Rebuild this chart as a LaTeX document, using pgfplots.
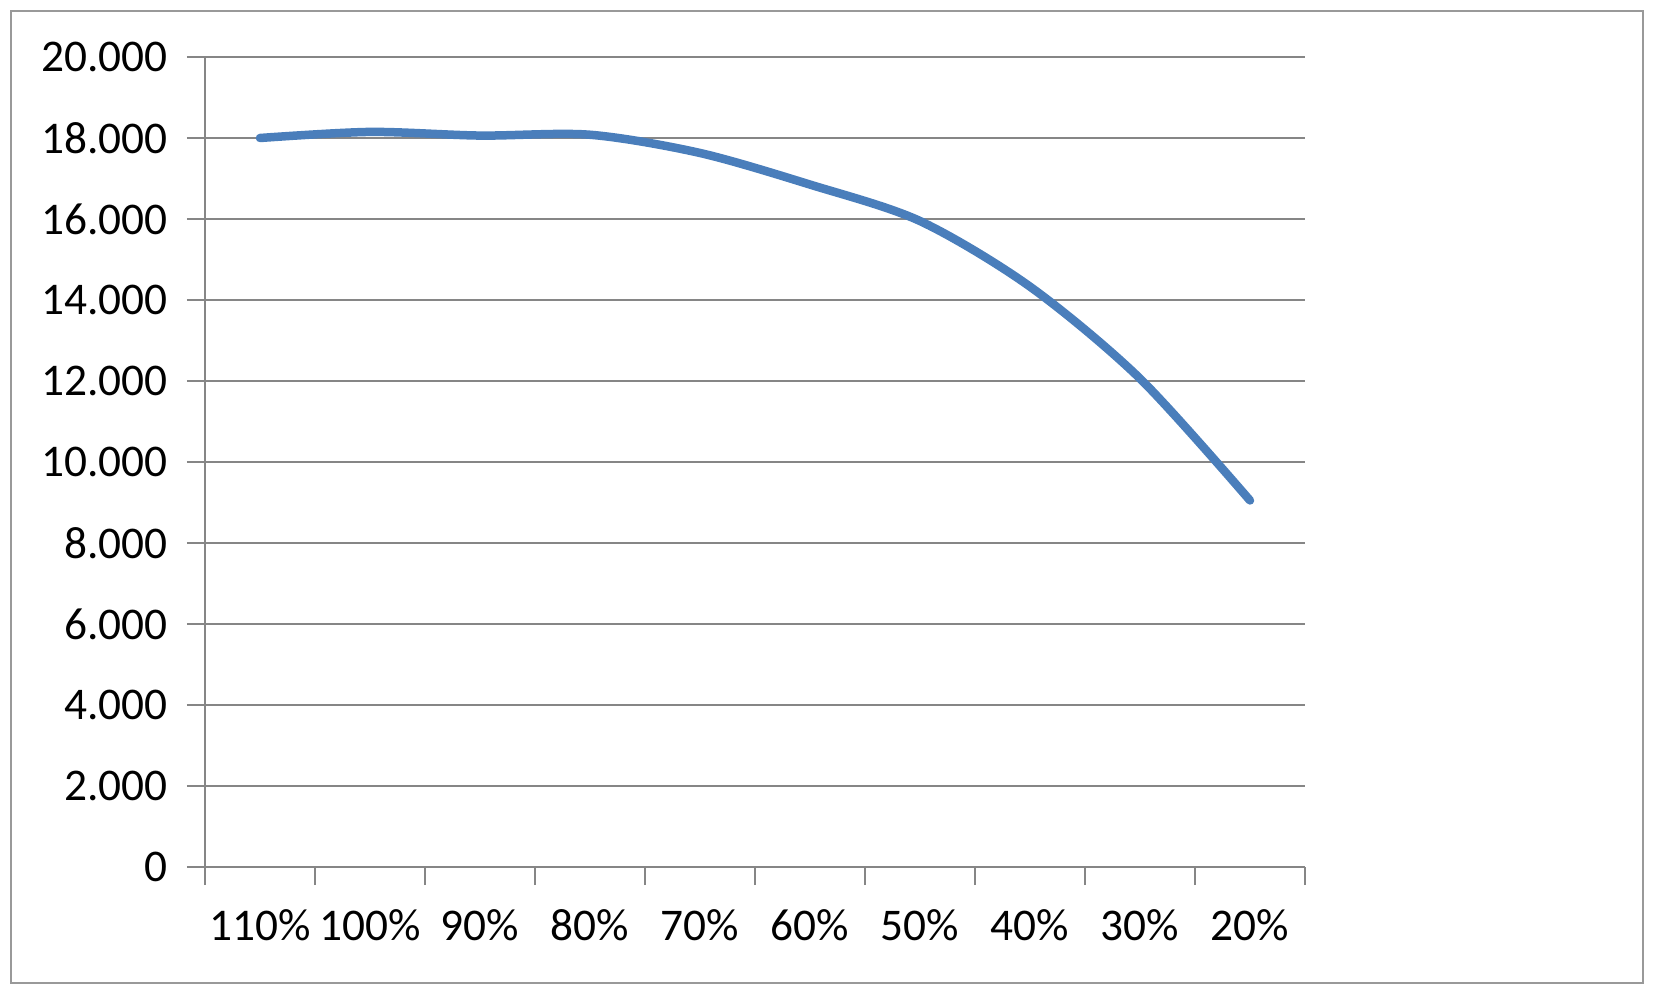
\documentclass[border=0pt]{standalone}
\usepackage{fontspec}
\setmainfont{Carlito}
\usepackage{pgfplots}
\pgfplotsset{compat=1.18}

\definecolor{excelblue}{HTML}{4A7EBB}
\definecolor{gridgray}{HTML}{868686}
\definecolor{framegray}{HTML}{999999}

\begin{document}
\begin{tikzpicture}
\path[use as bounding box] (0,0) rectangle (16.54,9.87);
\draw[framegray, line width=0.25mm] (0.11,0.04) rectangle (16.43,9.76);

\begin{axis}[
  at={(2.05cm,1.20cm)}, anchor=south west,
  scale only axis,
  width=11.0cm, height=8.10cm,
  xmin=0.5, xmax=10.5,
  ymin=0, ymax=20000,
  axis x line=bottom, axis y line=left,
  axis line style={gridgray, line width=0.22mm, -},
  xtick={1,...,10},
  xticklabels={110\%,100\%,90\%,80\%,70\%,60\%,50\%,40\%,30\%,20\%},
  minor xtick={0.5,1.5,...,10.5},
  ytick={0,2000,...,20000},
  minor ytick={0,2000,...,20000},
  scaled y ticks=false,
  tick align=outside,
  major tick length=0pt,
  minor tick length=0.18cm,
  every minor tick/.style={gridgray, line width=0.22mm},
  ymajorgrids,
  major grid style={gridgray, line width=0.22mm},
  ticklabel style={font=\fontsize{12.9}{14}\selectfont, text=black},
  /pgf/number format/.cd, 1000 sep={.}, assume math mode=true,
  /pgfplots/.cd,
  yticklabel style={xshift=-0.25cm},
  xticklabel style={yshift=-0.30cm},
  clip=false,
]
\addplot[excelblue, line width=0.85mm, smooth, line cap=round, tension=0.5] coordinates {
  (1, 18000)
  (2, 18150)
  (3, 18060)
  (4, 18080)
  (5, 17630)
  (6, 16850)
  (7, 15950)
  (8, 14330)
  (9, 12060)
  (10, 9050)
};
\end{axis}
\end{tikzpicture}
\end{document}
